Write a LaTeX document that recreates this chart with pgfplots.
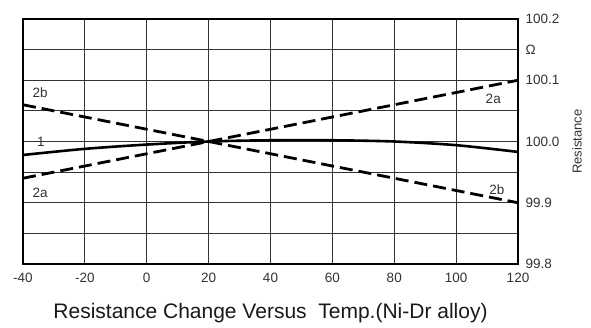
\documentclass[border=0pt]{standalone}
\usepackage{pgfplots}
\pgfplotsset{compat=1.18}
\usepackage{fontspec}
\setmainfont{Liberation Sans}
\begin{document}
\begin{tikzpicture}
\useasboundingbox (-23pt,-63pt) rectangle (568pt,264pt);
\begin{axis}[
  at={(0,0)}, anchor=south west,
  scale only axis, width=495pt, height=245pt,
  xmin=-40, xmax=120, ymin=99.8, ymax=100.2,
  xtick={-40,-20,0,20,40,60,80,100,120},
  xticklabels={-40,-20,0,20,40,60,80,100,120},
  ytick={99.8,99.85,99.9,99.95,100.0,100.05,100.1,100.15,100.2},
  yticklabels={99.8,,99.9,,100.0,,100.1,Ω,100.2},
  yticklabel pos=right,
  tick style={draw=none},
  major tick length=0pt,
  grid=major,
  major grid style={black!80, line width=1.1pt},
  axis line style={black, line width=2.4pt},
  ticklabel style={font=\fontsize{13.5}{15}\selectfont, text=black!80},
  xticklabel style={yshift=-6pt},
  yticklabel style={xshift=4pt},
  clip=false,
]
\addplot[black, line width=2.8pt, dash pattern=on 13pt off 6pt] coordinates {(-40,99.94) (120,100.1)};
\addplot[black, line width=2.8pt, dash pattern=on 13pt off 6pt] coordinates {(-40,100.06) (120,99.9)};
\addplot[black, line width=2.6pt, smooth] coordinates {
  (-40,99.978) (-20,99.988) (0,99.995) (20,100.0) (40,100.002) (60,100.002) (80,100.0) (100,99.994) (120,99.983)};
\node[font=\fontsize{13.5}{15}\selectfont, text=black!80] at (axis cs:-34.5,100.079) {2b};
\node[font=\fontsize{13.5}{15}\selectfont, text=black!80] at (axis cs:-34.2,100.0) {1};
\node[font=\fontsize{13.5}{15}\selectfont, text=black!80] at (axis cs:-34.5,99.916) {2a};
\node[font=\fontsize{13.5}{15}\selectfont, text=black!80] at (axis cs:112,100.069) {2a};
\node[font=\fontsize{13.5}{15}\selectfont, text=black!80] at (axis cs:113.2,99.922) {2b};
\node[font=\fontsize{13}{14}\selectfont, text=black!80, rotate=90] at ([xshift=59pt]rel axis cs:1,0.5) {Resistance};
\node[font=\fontsize{21}{24}\selectfont, text=black!90] at ([yshift=-49pt]rel axis cs:0.5,0) {Resistance Change Versus\ \ Temp.(Ni-Dr alloy)};
\end{axis}
\end{tikzpicture}
\end{document}
